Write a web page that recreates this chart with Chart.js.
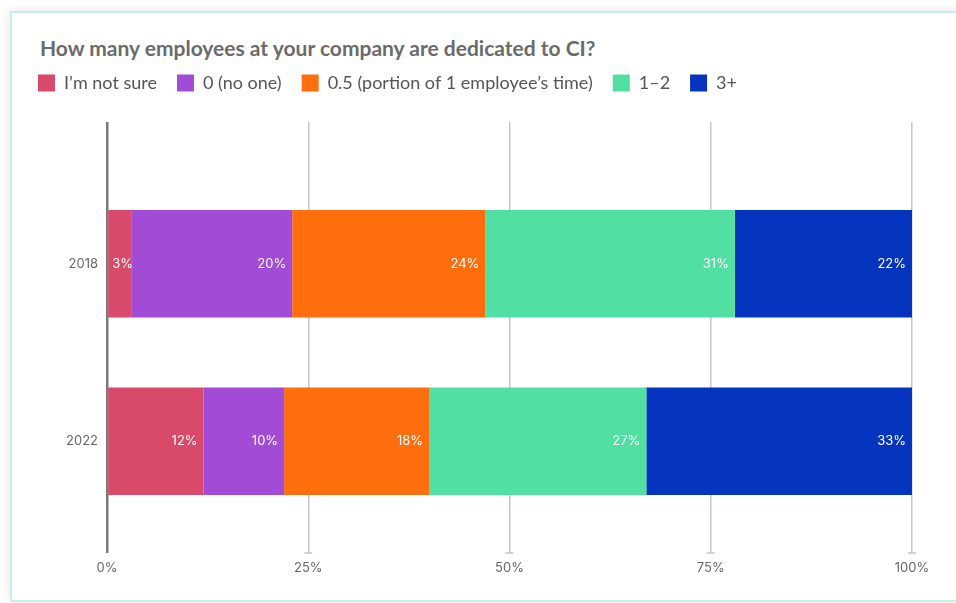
<!DOCTYPE html>
<html>
<head>
<meta charset="utf-8">
<script src="https://cdn.jsdelivr.net/npm/chart.js@4"></script>
<style>
  html, body { margin: 0; padding: 0; background: #fff; overflow: hidden; }
  #card {
    position: absolute; left: 10px; top: 11px; width: 1000px; height: 587px;
    border: 2px solid #c8eef2; background: #fff;
    box-shadow: 0 0 12px rgba(0, 0, 0, 0.10);
  }
  #title {
    position: absolute; left: 40px; top: 36px; margin: 0;
    font: 700 21px/24px Lato, sans-serif; color: #6b6b6b; white-space: nowrap;
  }
  #wrap { position: absolute; left: 0; top: 0; width: 956px; height: 603px; }
</style>
</head>
<body>
<div id="card"></div>
<h1 id="title">How many employees at your company are dedicated to CI?</h1>
<div id="wrap"><canvas id="chart" width="956" height="603"></canvas></div>
<script>
// categorie e serie
const years = ['2018', '2022'];
const seriesNames = ['I’m not sure', '0 (no one)', '0.5 (portion of 1 employee’s time)', '1–2', '3+'];
const notSure = [3, 12];
const noOne = [20, 10];
const halfTime = [24, 18];
const oneToTwo = [31, 27];
const threePlus = [22, 33];
const seriesColors = ['#d9496a', '#a14bd7', '#ff6e0c', '#52e0a2', '#0535bf'];
const xTickValues = [0, 25, 50, 75, 100];

const seriesData = [notSure, noOne, halfTime, oneToTwo, threePlus];

// colore/spessore delle linee verticali: la prima (0%) più scura
const gridColor = c => (c.index === 0 ? '#7a7a7a' : '#c6c6c6');
const gridWidth = c => (c.index === 0 ? 2.5 : 1.5);

// etichette percentuali dentro le barre
const barLabels = {
  id: 'barLabels',
  afterDatasetsDraw(chart) {
    const ctx = chart.ctx;
    ctx.save();
    ctx.font = '13px Inter, sans-serif';
    ctx.fillStyle = '#ffffff';
    ctx.textAlign = 'right';
    ctx.textBaseline = 'middle';
    chart.data.datasets.forEach((ds, i) => {
      chart.getDatasetMeta(i).data.forEach((bar, j) => {
        const txt = ds.data[j] + '%';
        const w = ctx.measureText(txt).width;
        const x = Math.max(bar.x - 6, bar.base + w + 4);
        ctx.fillText(txt, x, bar.y);
      });
    });
    ctx.restore();
  }
};

// piccoli trattini orizzontali in fondo alle linee della griglia
const tickCaps = {
  id: 'tickCaps',
  afterDraw(chart) {
    const sc = chart.scales.x;
    const y = chart.chartArea.bottom + sc.options.grid.tickLength;
    const ctx = chart.ctx;
    ctx.save();
    ctx.strokeStyle = '#c6c6c6';
    ctx.lineWidth = 1.5;
    sc.ticks.forEach((t, i) => {
      if (i === 0) return;
      const px = sc.getPixelForValue(t.value);
      ctx.beginPath();
      ctx.moveTo(px - 4, y);
      ctx.lineTo(px + 4, y);
      ctx.stroke();
    });
    ctx.restore();
  }
};

const layoutTop = 54;

new Chart(document.getElementById('chart'), {
  type: 'bar',
  data: {
    labels: years,
    datasets: seriesNames.map((name, i) => ({
      label: name,
      data: seriesData[i],
      backgroundColor: seriesColors[i],
      borderWidth: 0,
      barPercentage: 1,
      categoryPercentage: 0.6056
    }))
  },
  options: {
    indexAxis: 'y',
    responsive: false,
    animation: false,
    layout: { padding: { top: layoutTop, left: 18, right: 44, bottom: 0 } },
    plugins: {
      title: { display: false },
      tooltip: { enabled: false },
      legend: {
        position: 'top',
        align: 'start',
        labels: {
          boxWidth: 17,
          boxHeight: 17,
          padding: 20,
          color: '#555555',
          font: { size: 18, family: 'Lato, sans-serif' }
        }
      }
    },
    scales: {
      x: {
        stacked: true,
        position: 'bottom',
        min: 0,
        max: 100,
        afterBuildTicks: s => { s.ticks = xTickValues.map(v => ({ value: v })); },
        ticks: {
          callback: v => v + '%',
          padding: 7,
          color: '#666666',
          font: { size: 13, family: 'Inter, sans-serif' }
        },
        grid: { color: gridColor, lineWidth: gridWidth, tickLength: 23 },
        border: { display: false },
        afterFit: s => { s.height = 73; }
      },
      x2: {
        type: 'linear',
        position: 'top',
        min: 0,
        max: 100,
        afterBuildTicks: s => { s.ticks = xTickValues.map(v => ({ value: v })); },
        ticks: { display: false },
        grid: { drawOnChartArea: false, color: gridColor, lineWidth: gridWidth, tickLength: 53 },
        border: { display: false },
        afterFit: s => { s.height = 175 - layoutTop - s.chart.legend.height; }
      },
      y: {
        stacked: true,
        grid: { display: false, drawTicks: false },
        border: { display: false },
        ticks: {
          padding: 9,
          color: '#666666',
          font: { size: 13, family: 'Inter, sans-serif' }
        },
        afterFit: s => { s.width = 89; }
      }
    }
  },
  plugins: [barLabels, tickCaps]
});
</script>
</body>
</html>
